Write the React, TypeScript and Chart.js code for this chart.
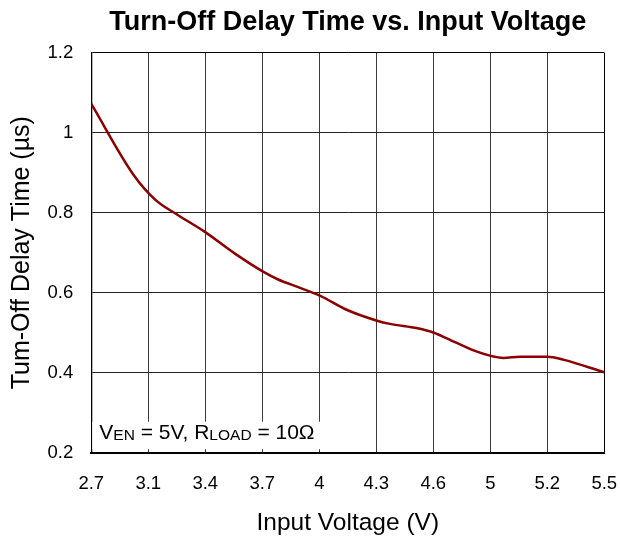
import React, { useEffect, useRef } from "react";
import { Chart, registerables } from "chart.js";

Chart.register(...registerables);

const TITLE = "Turn-Off Delay Time vs. Input Voltage";
const X_TITLE = "Input Voltage (V)";
const Y_TITLE = "Tum-Off Delay Time (µs)";

const voltage = [
  2.7, 2.93, 3.05, 3.17, 3.32, 3.48, 3.64, 3.72, 3.84, 3.95, 4.09, 4.26, 4.33,
  4.48, 4.57, 4.64, 4.79, 4.88, 4.95, 5.04, 5.19, 5.28, 5.5,
];
const delayTime = [
  1.072, 0.895, 0.832, 0.795, 0.752, 0.699, 0.652, 0.633, 0.612, 0.592, 0.558,
  0.53, 0.522, 0.511, 0.5, 0.486, 0.455, 0.442, 0.437, 0.44, 0.44, 0.432, 0.401,
];

const xMin = 2.7;
const xMax = 5.5;
const xTickLabels = ["2.7", "3.1", "3.4", "3.7", "4", "4.3", "4.6", "5", "5.2", "5.5"];
const yTickLabels = ["0.2", "0.4", "0.6", "0.8", "1", "1.2"];
const yMin = 0.2;
const yMax = 1.2;
const yStep = 0.2;

const FONT = "Arial, 'Liberation Sans', sans-serif";

const annotationPlugin = {
  id: "annotationBox",
  beforeDatasetsDraw(chart: any) {
    const { ctx, chartArea, scales } = chart;
    const xs = scales.x;
    const rightVal = xs.ticks[4] ? xs.ticks[4].value : 4;
    const right = xs.getPixelForValue(rightVal) + 2;
    const left = chartArea.left + 1;
    const top = chartArea.bottom - 31;
    const bottom = chartArea.bottom - 3.5;
    ctx.save();
    ctx.fillStyle = "#ffffff";
    ctx.fillRect(left, top, right - left, bottom - top);
    const parts: [string, boolean][] = [
      ["V", false],
      ["EN", true],
      [" = 5V, R", false],
      ["LOAD", true],
      [" = 10Ω", false],
    ];
    let x = chartArea.left + 8;
    const baseY = chartArea.bottom - 13.4;
    ctx.fillStyle = "#000";
    ctx.textBaseline = "alphabetic";
    ctx.textAlign = "left";
    for (const [t, sub] of parts) {
      ctx.font = sub ? `15.5px ${FONT}` : `21px ${FONT}`;
      ctx.fillText(t, x, sub ? baseY + 1 : baseY);
      x += ctx.measureText(t).width;
    }
    ctx.restore();
  },
};

export default function App() {
  const canvasRef = useRef<HTMLCanvasElement | null>(null);

  useEffect(() => {
    const canvas = canvasRef.current;
    if (!canvas) return;
    const points = voltage.map((v, i) => ({ x: v, y: delayTime[i] }));
    const chart = new Chart(canvas, {
      type: "line",
      data: {
        datasets: [
          {
            data: points,
            borderColor: "#8B0000",
            borderWidth: 2.5,
            pointRadius: 0,
            tension: 0.25,
            cubicInterpolationMode: "monotone",
            fill: false,
          },
        ],
      },
      options: {
        animation: false,
        responsive: true,
        maintainAspectRatio: false,
        layout: { padding: { left: 0, right: 0, top: 0, bottom: 0 } },
        plugins: {
          legend: { display: false },
          tooltip: { enabled: false },
          title: {
            display: true,
            text: TITLE,
            color: "#000",
            fullSize: false,
            font: { family: FONT, size: 27, weight: "bold" },
            padding: { top: 6, bottom: 14.3 },
          },
        },
        scales: {
          x: {
            type: "linear",
            min: xMin,
            max: xMax,
            afterBuildTicks: (scale: any) => {
              const n = xTickLabels.length - 1;
              scale.ticks = xTickLabels.map((_, i) => ({
                value: xMin + ((xMax - xMin) * i) / n,
              }));
            },
            afterFit: (scale: any) => {
              scale.height = 85.3;
              scale.paddingRight = 15.7;
              scale.paddingLeft = 0;
            },
            ticks: {
              color: "#000",
              font: { family: FONT, size: 18.5 },
              padding: 20,
              maxRotation: 0,
              autoSkip: false,
              callback: (_v: any, i: number) => xTickLabels[i],
            },
            grid: {
              color: (c: any) =>
                c.index === xTickLabels.length - 1 ? "#000" : "#3a3a3a",
              lineWidth: 1,
              drawTicks: false,
            },
            border: { display: true, color: "#000", width: 2 },
            title: {
              display: true,
              text: X_TITLE,
              color: "#000",
              font: { family: FONT, size: 24.5 },
              padding: { top: 6, bottom: 0 },
            },
          },
          y: {
            type: "linear",
            min: yMin,
            max: yMax,
            afterFit: (scale: any) => {
              scale.width = 91.3;
            },
            ticks: {
              stepSize: yStep,
              color: "#000",
              font: { family: FONT, size: 18.5 },
              padding: 18,
              callback: (_v: any, i: number) => yTickLabels[i],
            },
            grid: {
              color: (c: any) =>
                c.index === yTickLabels.length - 1 ? "#000" : "#222",
              lineWidth: 1,
              drawTicks: false,
            },
            border: { display: true, color: "#000", width: 1.3 },
            title: {
              display: true,
              text: Y_TITLE,
              color: "#000",
              font: { family: FONT, size: 25 },
              padding: { top: 7, bottom: 0 },
            },
          },
        },
      },
      plugins: [annotationPlugin],
    } as any);
    return () => chart.destroy();
  }, []);

  return (
    <div
      style={{
        position: "fixed",
        left: 0,
        top: 0,
        width: 620,
        height: 538,
        background: "#fff",
      }}
    >
      <canvas ref={canvasRef} />
    </div>
  );
}
